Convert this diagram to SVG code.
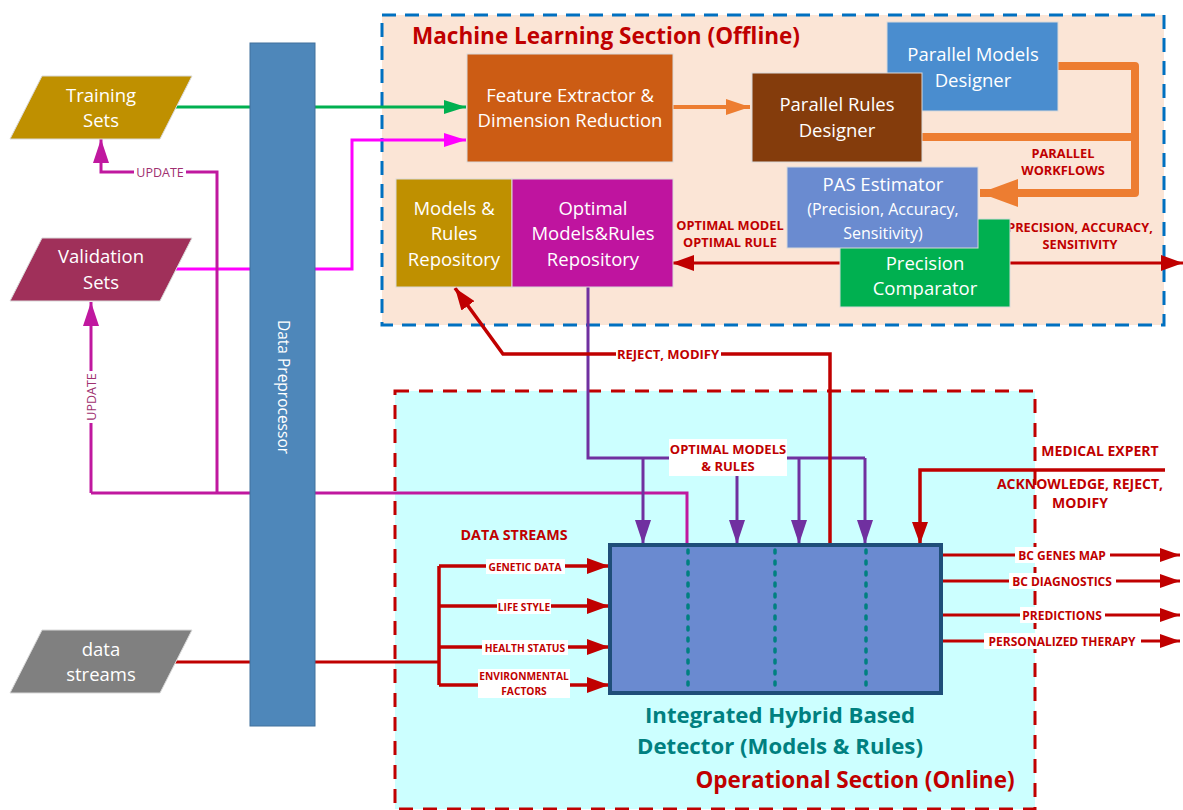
<svg xmlns="http://www.w3.org/2000/svg" width="1183" height="810" viewBox="0 0 1183 810">
<style>
text{font-family:"Open Sans","Noto Sans","Liberation Sans",sans-serif}
.w{fill:#fff;font-size:18.5px;text-anchor:middle}
.ws{font-size:16px}
.lbl{fill:#C00000;font-weight:bold;text-anchor:middle}
.bg{fill:#fff}
.node{stroke:#d9d9d9;stroke-width:1}
.red{stroke:#C00000;fill:none}
.pur{stroke:#7030A0;stroke-width:3;fill:none}
.plum{stroke:#C0189F;stroke-width:3;fill:none}
.mag{stroke:#FF00FF;stroke-width:3;fill:none}
.grn{stroke:#00B050;stroke-width:3;fill:none}
.org{stroke:#ED7D31;fill:none}
.dot{stroke:#008080;stroke-width:3.5;stroke-dasharray:3,8;stroke-linecap:round}
.ds{font-size:10.2px}
.out{font-size:12px}
</style>
<defs>
<marker id="aG" markerUnits="userSpaceOnUse" markerWidth="22" markerHeight="14" refX="22" refY="7" orient="auto"><path d="M0,0L22,7L0,14z" fill="#00B050"/></marker>
<marker id="aM" markerUnits="userSpaceOnUse" markerWidth="22" markerHeight="14" refX="22" refY="7" orient="auto"><path d="M0,0L22,7L0,14z" fill="#FF00FF"/></marker>
<marker id="aO" markerUnits="userSpaceOnUse" markerWidth="24" markerHeight="16" refX="24" refY="8" orient="auto"><path d="M0,0L24,8L0,16z" fill="#ED7D31"/></marker>
<marker id="aOB" markerUnits="userSpaceOnUse" markerWidth="38" markerHeight="28" refX="38" refY="14" orient="auto"><path d="M0,0L38,14L0,28z" fill="#ED7D31"/></marker>
<marker id="aR" markerUnits="userSpaceOnUse" markerWidth="22" markerHeight="16" refX="22" refY="8" orient="auto"><path d="M0,0L22,8L0,16z" fill="#C00000"/></marker>
<marker id="aRs" markerUnits="userSpaceOnUse" markerWidth="20" markerHeight="14" refX="20" refY="7" orient="auto"><path d="M0,0L20,7L0,14z" fill="#C00000"/></marker>
<marker id="aP" markerUnits="userSpaceOnUse" markerWidth="24" markerHeight="16" refX="24" refY="8" orient="auto"><path d="M0,0L24,8L0,16z" fill="#7030A0"/></marker>
<marker id="aPl" markerUnits="userSpaceOnUse" markerWidth="24" markerHeight="16" refX="24" refY="8" orient="auto"><path d="M0,0L24,8L0,16z" fill="#C0189F"/></marker>
</defs>
<rect width="1183" height="810" fill="#fff"/>

<g id="ml-section">
<rect x="382" y="15" width="782" height="310" fill="#FBE5D6" stroke="#0070C0" stroke-width="3" stroke-dasharray="14,9"/>
<text x="412" y="44" font-size="23" font-weight="bold" fill="#C00000" textLength="388" lengthAdjust="spacingAndGlyphs">Machine Learning Section (Offline)</text>
</g>
<g id="op-section">
<rect x="395" y="391" width="640" height="418" fill="#CCFFFF" stroke="#C00000" stroke-width="3" stroke-dasharray="14,10"/>
</g>

<g id="connectors">
<!-- training -->
<path class="grn" d="M175,107H250"/>
<path class="grn" d="M315,107H466" marker-end="url(#aG)"/>
<!-- validation -->
<path class="mag" d="M176,269H250"/>
<path class="mag" d="M315,269H352V140H466" marker-end="url(#aM)"/>
<!-- update -->
<path class="plum" d="M217,493V172H101V139" marker-end="url(#aPl)"/>
<path class="plum" d="M91,493V302" marker-end="url(#aPl)"/>
<path class="plum" d="M91,493H250"/>
<path class="plum" d="M315,493H687V545"/>
<rect class="bg" x="134" y="164" width="52" height="16"/>
<text x="160" y="176.5" font-size="12.5" fill="#A03070" text-anchor="middle">UPDATE</text>
<rect class="bg" x="83" y="371" width="16" height="52"/>
<text transform="translate(95.5,397) rotate(-90)" font-size="12.5" fill="#A03070" text-anchor="middle">UPDATE</text>
<!-- orange -->
<path class="org" stroke-width="4" d="M673,107H750" marker-end="url(#aO)"/>
<path class="org" stroke-width="8" stroke-linejoin="round" d="M1058,66H1135V193H980" marker-end="url(#aOB)"/>
<path class="org" stroke-width="8" d="M922,137H1135"/>
<text class="lbl" x="1063" y="158" font-size="12.8">PARALLEL</text>
<text class="lbl" x="1063" y="175" font-size="12.8">WORKFLOWS</text>
<!-- optimal model -->
<path class="red" stroke-width="3" d="M840,263H672" marker-end="url(#aR)"/>
<path class="red" stroke-width="3" d="M1010,263H1183" marker-end="url(#aR)"/>
<text class="lbl" x="730" y="230" font-size="12.8">OPTIMAL MODEL</text>
<text class="lbl" x="730" y="247" font-size="12.8">OPTIMAL RULE</text>
<text class="lbl" x="1080" y="232" font-size="12.7">PRECISION, ACCURACY,</text>
<text class="lbl" x="1080" y="249" font-size="12.7">SENSITIVITY</text>
<!-- optimal models & rules -->
<path class="pur" d="M588,287V458H865"/>
<path class="pur" d="M643,458V544" marker-end="url(#aP)"/>
<path class="pur" d="M737,470V544" marker-end="url(#aP)"/>
<path class="pur" d="M799,458V544" marker-end="url(#aP)"/>
<path class="pur" d="M865,458V544" marker-end="url(#aP)"/>
<rect class="bg" x="669" y="439" width="118" height="37"/>
<text class="lbl" x="728" y="454" font-size="13">OPTIMAL MODELS</text>
<text class="lbl" x="728" y="471" font-size="13">&amp; RULES</text>
<!-- reject modify -->
<path class="red" stroke-width="3.5" d="M830,545V354H503L455,288" marker-end="url(#aR)"/>
<rect class="bg" x="616" y="345" width="105" height="17"/>
<text class="lbl" x="668" y="358.5" font-size="13">REJECT, MODIFY</text>
<!-- data streams -->
<path class="red" stroke-width="3" d="M175,662H250"/>
<path class="red" stroke-width="3" d="M315,662H440"/>
<path class="red" stroke-width="3.5" d="M439,566V685"/>
<path class="red" stroke-width="3.5" d="M439,566H609" marker-end="url(#aR)"/>
<path class="red" stroke-width="3.5" d="M439,606H609" marker-end="url(#aR)"/>
<path class="red" stroke-width="3.5" d="M439,647H609" marker-end="url(#aR)"/>
<path class="red" stroke-width="3.5" d="M439,685H609" marker-end="url(#aR)"/>
<text class="lbl" x="514" y="540" font-size="14.3">DATA STREAMS</text>
<rect class="bg" x="486" y="559" width="79" height="15"/>
<text class="lbl ds" x="525" y="570.5">GENETIC DATA</text>
<rect class="bg" x="497" y="599" width="54" height="15"/>
<text class="lbl ds" x="524" y="610.5">LIFE STYLE</text>
<rect class="bg" x="482" y="640" width="86" height="15"/>
<text class="lbl ds" x="525" y="651.5">HEALTH STATUS</text>
<rect class="bg" x="478" y="669" width="92" height="29"/>
<text class="lbl ds" x="524" y="680">ENVIRONMENTAL</text>
<text class="lbl ds" x="524" y="695">FACTORS</text>
<!-- medical expert -->
<path class="red" stroke-width="3.5" d="M1165,470H920V544" marker-end="url(#aR)"/>
<text class="lbl" x="1100" y="456" font-size="14">MEDICAL EXPERT</text>
<text class="lbl" x="1080" y="489" font-size="14">ACKNOWLEDGE, REJECT,</text>
<text class="lbl" x="1080" y="508" font-size="14">MODIFY</text>
<!-- outputs -->
<path class="red" stroke-width="3" d="M943,555H1180" marker-end="url(#aRs)"/>
<path class="red" stroke-width="3" d="M943,581H1180" marker-end="url(#aRs)"/>
<path class="red" stroke-width="3" d="M943,615H1180" marker-end="url(#aRs)"/>
<path class="red" stroke-width="3" d="M943,641H1180" marker-end="url(#aRs)"/>
<rect class="bg" x="1015" y="547" width="95" height="16"/>
<text class="lbl out" x="1062" y="559.5">BC GENES MAP</text>
<rect class="bg" x="1009" y="573" width="107" height="16"/>
<text class="lbl out" x="1062" y="585.5">BC DIAGNOSTICS</text>
<rect class="bg" x="1020" y="607" width="85" height="16"/>
<text class="lbl out" x="1062" y="619.5">PREDICTIONS</text>
<rect class="bg" x="984" y="633" width="157" height="16"/>
<text class="lbl out" x="1062" y="645.5">PERSONALIZED THERAPY</text>
</g>

<g id="training-sets">
<polygon class="node" points="42,76 192,76 160,139 10,139" fill="#BF9000"/>
<text class="w" x="101" y="102">Training</text>
<text class="w" x="101" y="127">Sets</text>
</g>
<g id="validation-sets">
<polygon class="node" points="42,238 192,238 160,301 10,301" fill="#A0305A"/>
<text class="w" x="101" y="263">Validation</text>
<text class="w" x="101" y="289">Sets</text>
</g>
<g id="data-streams">
<polygon class="node" points="42,630 192,630 160,693 10,693" fill="#808080"/>
<text class="w" x="101" y="656">data</text>
<text class="w" x="101" y="681">streams</text>
</g>
<g id="data-preprocessor">
<rect x="250" y="43" width="65" height="683" fill="#4E87BA" stroke="#41719C" stroke-width="1"/>
<text transform="translate(283,387) rotate(90)" fill="#fff" font-size="15.5" text-anchor="middle" dy="0.35em">Data Preprocessor</text>
</g>
<g id="feature-extractor">
<rect class="node" x="467" y="54" width="206" height="108" fill="#CC5C14"/>
<text class="w" x="570" y="102">Feature Extractor &amp;</text>
<text class="w" x="570" y="127">Dimension Reduction</text>
</g>
<g id="parallel-models">
<rect class="node" x="887" y="22" width="171" height="89" fill="#4A8DCF"/>
<text class="w" x="973" y="61">Parallel Models</text>
<text class="w" x="973" y="87">Designer</text>
</g>
<g id="parallel-rules">
<rect class="node" x="752" y="73" width="170" height="89" fill="#843C0C"/>
<text class="w" x="837" y="111">Parallel Rules</text>
<text class="w" x="837" y="137">Designer</text>
</g>
<g id="precision-comparator">
<rect class="node" x="840" y="219" width="170" height="88" fill="#00B050"/>
<text class="w" x="925" y="270">Precision</text>
<text class="w" x="925" y="295">Comparator</text>
</g>
<g id="pas-estimator">
<rect class="node" x="787" y="167" width="191" height="81" fill="#6A8BD0"/>
<text class="w" x="883" y="191">PAS Estimator</text>
<text class="w ws" x="883" y="215">(Precision, Accuracy,</text>
<text class="w ws" x="883" y="239">Sensitivity)</text>
</g>
<g id="models-rules-repo">
<rect class="node" x="396" y="179" width="116" height="108" fill="#BF9000"/>
<text class="w" x="454" y="215">Models &amp;</text>
<text class="w" x="454" y="240">Rules</text>
<text class="w" x="454" y="266">Repository</text>
</g>
<g id="optimal-repo">
<rect class="node" x="512" y="179" width="161" height="108" fill="#BF149F"/>
<text class="w" x="593" y="215">Optimal</text>
<text class="w" x="593" y="240">Models&amp;Rules</text>
<text class="w" x="593" y="266">Repository</text>
</g>
<g id="detector">
<rect x="610" y="545" width="331" height="148" fill="#6A8AD0" stroke="#1F4E79" stroke-width="4"/>
<line class="dot" x1="688" y1="550" x2="688" y2="691"/>
<line class="dot" x1="775" y1="550" x2="775" y2="691"/>
<line class="dot" x1="866" y1="550" x2="866" y2="691"/>
<text x="780" y="723" font-size="22.2" font-weight="bold" fill="#008080" text-anchor="middle">Integrated Hybrid Based</text>
<text x="780" y="754" font-size="22.2" font-weight="bold" fill="#008080" text-anchor="middle">Detector (Models &amp; Rules)</text>
<text x="855" y="788" font-size="22.5" font-weight="bold" fill="#C00000" text-anchor="middle">Operational Section (Online)</text>
</g>
</svg>
